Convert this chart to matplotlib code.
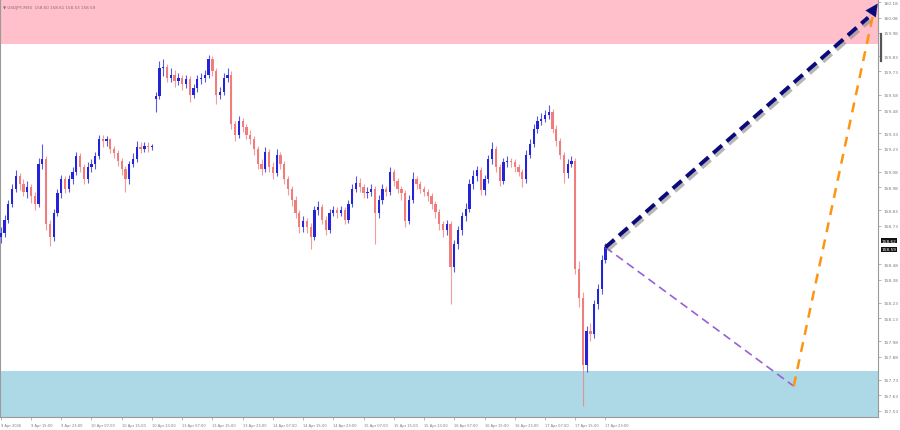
import matplotlib
matplotlib.use("Agg")
import matplotlib.pyplot as plt
import matplotlib.patheffects as pe
from matplotlib.transforms import blended_transform_factory
from matplotlib import font_manager

# ---------------- data (hourly candles) ----------------
closes = [158.68, 158.77, 158.87, 158.97, 159.05, 159.00, 158.95, 158.98, 158.92, 158.87,
          159.13, 159.16, 158.74, 158.66, 158.81, 158.94, 159.03, 158.97, 159.03, 159.08,
          159.18, 159.11, 159.03, 159.11, 159.13, 159.18, 159.29, 159.28, 159.29, 159.23,
          159.20, 159.15, 159.10, 159.03, 159.13, 159.16, 159.24, 159.23, 159.25, 159.24,
          159.24, 159.57, 159.75, 159.76, 159.69, 159.71, 159.67, 159.69, 159.65, 159.68,
          159.58, 159.62, 159.68, 159.69, 159.71, 159.81, 159.73, 159.58, 159.60, 159.69,
          159.71, 159.39, 159.32, 159.41, 159.37, 159.32, 159.29, 159.23, 159.13, 159.10,
          159.21, 159.11, 159.07, 159.19, 159.13, 159.03, 158.97, 158.90, 158.81, 158.72,
          158.76, 158.72, 158.66, 158.83, 158.85, 158.77, 158.70, 158.81, 158.83, 158.81,
          158.83, 158.77, 158.87, 158.97, 159.01, 158.98, 158.94, 158.95, 158.97, 158.81,
          158.90, 158.97, 158.95, 159.08, 159.02, 158.97, 158.94, 158.76, 158.90, 159.03,
          159.00, 158.97, 158.95, 158.92, 158.87, 158.82, 158.74, 158.70, 158.74, 158.46,
          158.61, 158.70, 158.79, 158.84, 159.00, 159.05, 159.09, 158.96, 159.03, 159.16,
          159.23, 159.11, 159.02, 159.14, 159.15, 159.14, 159.11, 159.08, 159.03, 159.19,
          159.26, 159.36, 159.41, 159.42, 159.45, 159.47, 159.36, 159.28, 159.19, 159.07,
          159.13, 159.15, 158.45, 158.26, 157.83, 158.05, 158.03, 158.22, 158.32, 158.51,
          158.59]
highs = [158.72, 158.80, 158.90, 159.00, 159.09, 159.07, 159.03, 159.02, 159.00, 158.95,
         159.17, 159.26, 159.18, 158.77, 158.84, 158.97, 159.06, 159.05, 159.06, 159.11,
         159.21, 159.20, 159.13, 159.14, 159.16, 159.21, 159.32, 159.32, 159.31, 159.30,
         159.25, 159.22, 159.17, 159.12, 159.15, 159.20, 159.28, 159.27, 159.27, 159.27,
         159.26, 159.60, 159.80, 159.81, 159.78, 159.75, 159.74, 159.72, 159.71, 159.71,
         159.70, 159.65, 159.71, 159.72, 159.74, 159.84, 159.83, 159.75, 159.63, 159.72,
         159.75, 159.73, 159.41, 159.44, 159.43, 159.39, 159.35, 159.31, 159.25, 159.16,
         159.24, 159.23, 159.14, 159.23, 159.21, 159.15, 159.05, 158.99, 158.92, 158.83,
         158.79, 158.78, 158.75, 158.86, 158.89, 158.87, 158.79, 158.84, 158.86, 158.85,
         158.86, 158.85, 158.90, 159.00, 159.05, 159.04, 159.00, 158.98, 159.00, 158.99,
         158.93, 159.00, 158.99, 159.11, 159.10, 159.04, 158.99, 158.96, 158.93, 159.08,
         159.05, 159.02, 158.99, 158.97, 158.94, 158.89, 158.84, 158.76, 158.77, 158.76,
         158.64, 158.73, 158.82, 158.88, 159.03, 159.09, 159.12, 159.11, 159.06, 159.19,
         159.27, 159.25, 159.13, 159.17, 159.18, 159.17, 159.16, 159.13, 159.10, 159.22,
         159.29, 159.39, 159.44, 159.46, 159.48, 159.51, 159.49, 159.38, 159.30, 159.21,
         159.16, 159.18, 159.17, 158.50, 158.30, 158.08, 158.10, 158.25, 158.35, 158.54,
         158.62]
lows = [158.62, 158.66, 158.75, 158.85, 158.95, 158.96, 158.92, 158.91, 158.88, 158.83,
        158.85, 159.10, 158.70, 158.60, 158.63, 158.79, 158.91, 158.94, 158.95, 159.00,
        159.06, 159.08, 159.00, 159.01, 159.08, 159.10, 159.16, 159.24, 159.25, 159.20,
        159.17, 159.12, 159.06, 158.95, 159.00, 159.11, 159.14, 159.20, 159.21, 159.21,
        159.22, 159.47, 159.55, 159.70, 159.66, 159.66, 159.63, 159.64, 159.61, 159.62,
        159.53, 159.56, 159.60, 159.65, 159.66, 159.69, 159.70, 159.52, 159.55, 159.58,
        159.66, 159.36, 159.28, 159.30, 159.34, 159.29, 159.26, 159.19, 159.10, 159.06,
        159.08, 159.08, 159.03, 159.05, 159.10, 159.00, 158.93, 158.86, 158.78, 158.68,
        158.69, 158.68, 158.58, 158.64, 158.80, 158.74, 158.67, 158.68, 158.79, 158.78,
        158.79, 158.74, 158.75, 158.85, 158.95, 158.95, 158.91, 158.91, 158.92, 158.61,
        158.78, 158.87, 158.92, 158.93, 158.99, 158.94, 158.90, 158.72, 158.74, 158.88,
        158.97, 158.94, 158.92, 158.89, 158.84, 158.78, 158.70, 158.66, 158.67, 158.22,
        158.43, 158.58, 158.67, 158.76, 158.82, 158.97, 159.02, 158.93, 158.93, 159.01,
        159.13, 159.08, 158.99, 159.00, 159.11, 159.11, 159.08, 159.05, 158.98, 159.01,
        159.17, 159.24, 159.33, 159.38, 159.40, 159.42, 159.33, 159.25, 159.16, 159.01,
        159.04, 159.11, 158.42, 158.20, 157.56, 157.78, 157.98, 158.00, 158.19, 158.29,
        158.49]
first_open = 158.66
gap_index = 41          # first candle after the weekend
gap_open = 159.55

x_labels = ["9 Apr 2026", "9 Apr 15:00", "9 Apr 23:00", "10 Apr 07:00", "10 Apr 15:00",
            "10 Apr 23:00", "13 Apr 07:00", "13 Apr 15:00", "13 Apr 23:00", "14 Apr 07:00",
            "14 Apr 15:00", "14 Apr 23:00", "15 Apr 07:00", "15 Apr 15:00", "15 Apr 23:00",
            "16 Apr 07:00", "16 Apr 15:00", "16 Apr 23:00", "17 Apr 07:00", "17 Apr 15:00",
            "17 Apr 23:00"]
bars_per_label = 8

y_ticks = [160.18, 160.08, 159.98, 159.83, 159.73, 159.58, 159.48, 159.33, 159.23, 159.08,
           158.98, 158.83, 158.73, 158.48, 158.38, 158.23, 158.13, 157.98, 157.88, 157.73,
           157.63, 157.53]

resistance_zone = (159.91, 160.25)
support_zone = (157.40, 157.79)

# forecast wave points (bar index, price)
wave_start = (160, 158.59)
wave_low = (209.8, 157.69)
wave_orange_top = (230.8, 160.10)
wave_target = (232.0, 160.17)

title_text = "USDJPY,M30  158.60 158.61 158.53 158.59"
bid_ask = [158.62, 158.59]

# ---------------- figure ----------------
installed = {f.name for f in font_manager.fontManager.ttflist}
narrow = "Liberation Sans Narrow" in installed
small_family = ["Liberation Sans Narrow", "DejaVu Sans"] if narrow else ["DejaVu Sans"]
x_size = 3.3 if narrow else 2.6
y_size = 3.8 if narrow else 3.1
t_size = 3.6 if narrow else 3.0

fig = plt.figure(figsize=(9.0, 4.31), dpi=100)
ax = fig.add_axes([0.0, 1 - 418 / 431, 878 / 900, 418 / 431])
ax.set_xlim(-0.2, 232.1)
ax.set_ylim(157.49, 160.20)

ax.axhspan(*resistance_zone, color="#ffc0cb", zorder=0, lw=0)
ax.axhspan(*support_zone, color="#add8e6", zorder=0, lw=0)

opens = [first_open] + closes[:-1]
opens[gap_index] = gap_open
bull_c = "#2323d8"
bear_c = "#f07c7c"
for i, (o, h, l, c) in enumerate(zip(opens, highs, lows, closes)):
    col = bull_c if c >= o else bear_c
    ax.vlines(i, l, h, color=col, lw=0.8, alpha=0.75, zorder=2)
    bottom = min(o, c)
    height = max(abs(c - o), 0.008)
    ax.bar(i, height, bottom=bottom, width=0.6, color=col, lw=0, zorder=3)

# purple dashed leg down
ax.plot([wave_start[0], wave_low[0]], [wave_start[1], wave_low[1]],
        ls=(0, (5, 3)), color="#9a5fd8", lw=1.2, zorder=4)
# orange dashed leg up
ax.plot([wave_low[0], wave_orange_top[0]], [wave_low[1], wave_orange_top[1]],
        ls=(0, (4, 3)), color="#ff9410", lw=1.8, zorder=4)
# navy dashed arrow with shadow
ax.plot([wave_start[0], wave_target[0] - 2.5], [wave_start[1], wave_target[1] - 0.09],
        ls=(0, (3, 1.6)), color="#0a0a7a", lw=2.8, zorder=5,
        path_effects=[pe.SimpleLineShadow(offset=(1.5, -2), shadow_color="#888888", alpha=0.6),
                      pe.Normal()])
ax.annotate("", xy=wave_target, xytext=(wave_target[0] - 4, wave_target[1] - 0.145),
            arrowprops=dict(arrowstyle="-|>", color="#0a0a7a", lw=0.1,
                            mutation_scale=22, shrinkA=0, shrinkB=0), zorder=6)

# axes styling
ax.spines["top"].set_visible(False)
for s in ["right", "bottom", "left"]:
    ax.spines[s].set_color("#9a9a9a")
    ax.spines[s].set_linewidth(0.8)

ax.yaxis.tick_right()
ax.set_yticks(y_ticks)
ax.set_yticklabels([f"{v:.2f}" for v in y_ticks], family=small_family)
ax.tick_params(axis="y", length=2, width=0.5, colors="#9a9a9a", labelcolor="#7a7a7a",
               labelsize=y_size, pad=2)

xpos = [k * bars_per_label for k in range(len(x_labels))]
ax.set_xticks(xpos)
ax.set_xticklabels(x_labels, ha="left", family=small_family)
ax.tick_params(axis="x", length=2.5, width=0.5, colors="#9a9a9a", labelcolor="#7a7a7a",
               labelsize=x_size, pad=2)

# scroll marker on right axis
trans_r = blended_transform_factory(ax.transAxes, ax.transData)
ax.plot([1.003, 1.003], [159.97, 159.80], transform=trans_r, color="#555555",
        lw=1.6, clip_on=False, zorder=7)

# bid / ask labels
for k, v in enumerate(bid_ask):
    ax.text(1.004, v + (0.014 if k == 0 else -0.014), f"{v:.2f}", transform=trans_r,
            fontsize=y_size, family=small_family, color="white", va="center", ha="left",
            bbox=dict(boxstyle="square,pad=0.12", fc="#111111", ec="none"), clip_on=False)

# title text
ax.text(0.003, 0.985, "\u25BC " + title_text, transform=ax.transAxes, fontsize=t_size,
        family=small_family, color="#8a6a70", va="top", ha="left")

fig.savefig("out.png", dpi=100, facecolor="white")
